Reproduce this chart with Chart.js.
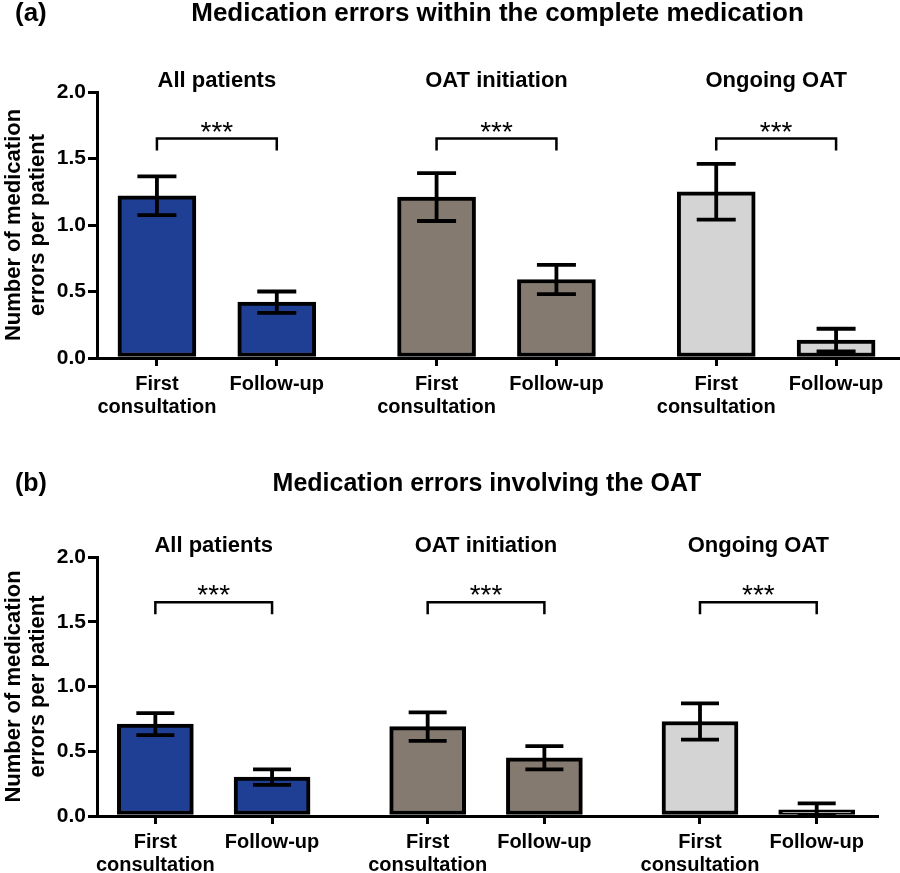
<!DOCTYPE html>
<html lang="en">
<head>
    <meta charset="UTF-8">
    <title>Medication errors per patient</title>
    <script src="https://cdn.jsdelivr.net/npm/chart.js@4.4.1/dist/chart.umd.min.js"></script>
    <style>
        body { margin: 0; background: #fff; }
        .panel { position: absolute; left: 0; width: 900px; }
    </style>
</head>
<body>
    <div class="panel" style="top:0; height:435px;"><canvas id="chartA"></canvas></div>
    <div class="panel" style="top:435px; height:438px;"><canvas id="chartB"></canvas></div>

    <script>
        // Data
        const groups = ['All patients', 'OAT initiation', 'Ongoing OAT'];
        const timepoints = [['First', 'consultation'], 'Follow-up'];
        const yTicks = [0, 0.5, 1.0, 1.5, 2.0];

        // (a) all medication errors: mean and SEM per bar (group x timepoint)
        const totalMean = [1.22, 0.42, 1.21, 0.59, 1.25, 0.135];
        const totalSem  = [0.145, 0.08, 0.18, 0.11, 0.21, 0.085];
        // (b) errors involving the OAT
        const oatMean = [0.71, 0.30, 0.69, 0.45, 0.73, 0.047];
        const oatSem  = [0.085, 0.06, 0.11, 0.09, 0.14, 0.05];

        const sigLabels = ['***', '***', '***'];
        const sigLevel = [1.65, 1.65, 1.65];

        const FONT = '"Liberation Sans", Arial, Helvetica, sans-serif';
        const groupColors = ['#1f3f94', '#857a70', '#d4d4d4'];

        // bar layout on a linear axis: 3 units between bars, 7 between groups
        const barPos = (g, k) => g * 7 + k * 3;

        const errorBars = {
            id: 'errorBars',
            afterDatasetsDraw(chart, args, opts) {
                const ctx = chart.ctx;
                const ys = chart.scales.y;
                const meta = chart.getDatasetMeta(0);
                ctx.save();
                ctx.strokeStyle = '#000';
                ctx.lineWidth = 3.8;
                meta.data.forEach((bar, i) => {
                    const m = opts.mean[i], e = opts.sem[i];
                    const yTop = ys.getPixelForValue(m + e);
                    const yBot = ys.getPixelForValue(Math.max(m - e, 0));
                    const half = bar.width / 4;
                    ctx.beginPath();
                    ctx.moveTo(bar.x, yTop); ctx.lineTo(bar.x, yBot);
                    ctx.moveTo(bar.x - half, yTop); ctx.lineTo(bar.x + half, yTop);
                    ctx.moveTo(bar.x - half, yBot); ctx.lineTo(bar.x + half, yBot);
                    ctx.stroke();
                });
                // significance brackets
                ctx.lineWidth = 2.5;
                ctx.fillStyle = '#000';
                ctx.font = '28px ' + FONT;
                ctx.textAlign = 'center';
                ctx.textBaseline = 'alphabetic';
                groups.forEach((g, gi) => {
                    const x1 = meta.data[gi * 2].x;
                    const x2 = meta.data[gi * 2 + 1].x;
                    const y = ys.getPixelForValue(sigLevel[gi]);
                    ctx.beginPath();
                    ctx.moveTo(x1, y + 12); ctx.lineTo(x1, y);
                    ctx.lineTo(x2, y); ctx.lineTo(x2, y + 12);
                    ctx.stroke();
                    ctx.fillText(sigLabels[gi], (x1 + x2) / 2, y + 2);
                });
                ctx.restore();
            }
        };

        const panelTitles = {
            id: 'panelTitles',
            afterDraw(chart, args, opts) {
                const ctx = chart.ctx;
                const a = chart.chartArea;
                ctx.save();
                ctx.fillStyle = '#000';
                ctx.textBaseline = 'alphabetic';
                ctx.font = 'bold ' + opts.size + 'px ' + FONT;
                ctx.textAlign = 'left';
                ctx.fillText(opts.letter, 15, opts.baseline);
                ctx.textAlign = 'center';
                ctx.fillText(opts.text, (a.left + a.right) / 2, opts.baseline);
                ctx.restore();
            }
        };

        function makePanel(id, p) {
            const points = [], colors = [], tickLabels = [];
            groups.forEach((g, gi) => {
                timepoints.forEach((t, k) => {
                    const i = gi * 2 + k;
                    points.push({ x: barPos(gi, k), y: p.mean[i] });
                    colors.push(groupColors[gi]);
                    tickLabels.push(t);
                });
            });
            const barTicks = points.map(pt => ({ value: pt.x }));
            const groupTicks = groups.map((g, gi) => ({ value: barPos(gi, 0) + 1.5 }));

            new Chart(document.getElementById(id), {
                type: 'bar',
                data: {
                    datasets: [{
                        data: points,
                        backgroundColor: colors,
                        borderColor: '#000',
                        borderWidth: 4,
                        borderSkipped: false,
                        barThickness: p.barWidth
                    }]
                },
                options: {
                    responsive: true,
                    maintainAspectRatio: false,
                    animation: false,
                    layout: { padding: { left: 0, right: p.padRight, top: 0, bottom: 0 } },
                    plugins: {
                        legend: { display: false },
                        tooltip: { enabled: false },
                        errorBars: { mean: p.mean, sem: p.sem },
                        panelTitles: { letter: p.letter, text: p.title, size: p.titleSize, baseline: p.titleBaseline }
                    },
                    scales: {
                        x: {
                            type: 'linear',
                            position: 'bottom',
                            min: -1.5,
                            max: 18.55,
                            offset: false,
                            afterBuildTicks: s => { s.ticks = barTicks.map(t => ({ value: t.value })); },
                            afterFit: s => { s.height = p.xHeight; },
                            border: { display: true, color: '#000', width: 3 },
                            grid: { offset: false, drawOnChartArea: false, drawTicks: true, tickLength: 8, lineWidth: 3, color: '#000' },
                            ticks: {
                                autoSkip: false,
                                maxRotation: 0,
                                padding: 7,
                                color: '#000',
                                font: { family: FONT, size: 20, weight: 'bold', lineHeight: 1.15 },
                                callback: (v, i) => tickLabels[i]
                            }
                        },
                        xTop: {
                            type: 'linear',
                            position: 'top',
                            min: -1.5,
                            max: 18.55,
                            offset: false,
                            afterBuildTicks: s => { s.ticks = groupTicks.map(t => ({ value: t.value })); },
                            afterFit: s => { s.height = p.plotTop; },
                            border: { display: false },
                            grid: { display: false, drawTicks: false, offset: false },
                            ticks: {
                                autoSkip: false,
                                maxRotation: 0,
                                padding: 0,
                                color: '#000',
                                font: { family: FONT, size: 22, weight: 'bold', lineHeight: 1.0 },
                                callback: (v, i) => groups[i]
                            }
                        },
                        y: {
                            min: 0,
                            max: 2,
                            afterBuildTicks: s => { s.ticks = yTicks.map(v => ({ value: v })); },
                            afterFit: s => { s.width = 97; },
                            border: { display: true, color: '#000', width: 3 },
                            grid: { drawOnChartArea: false, drawTicks: true, tickLength: 9, lineWidth: 3, color: '#000' },
                            ticks: {
                                padding: 2,
                                color: '#000',
                                font: { family: FONT, size: 21, weight: 'bold' },
                                callback: v => v.toFixed(1)
                            },
                            title: {
                                display: true,
                                text: ['Number of medication', 'errors per patient'],
                                color: '#000',
                                padding: { top: 2, bottom: 0 },
                                font: { family: FONT, size: 22, weight: 'bold', lineHeight: 1.1 }
                            }
                        }
                    }
                },
                plugins: [errorBars, panelTitles]
            });
        }

        makePanel('chartA', {
            letter: '(a)', title: 'Medication errors within the complete medication',
            titleSize: 26, titleBaseline: 21,
            mean: totalMean, sem: totalSem,
            barWidth: 78, padRight: 2, plotTop: 92, xHeight: 77
        });

        makePanel('chartB', {
            letter: '(b)', title: 'Medication errors involving the OAT',
            titleSize: 25, titleBaseline: 56,
            mean: oatMean, sem: oatSem,
            barWidth: 76, padRight: 23, plotTop: 122, xHeight: 57
        });
    </script>
</body>
</html>
